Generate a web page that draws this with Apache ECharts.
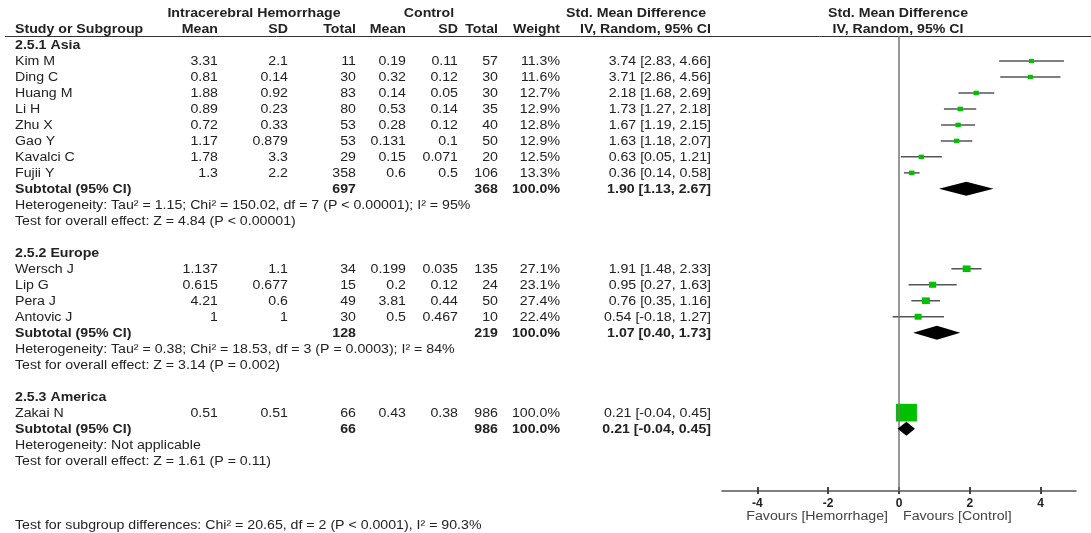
<!DOCTYPE html>
<html lang="en">
<head>
	<meta charset="UTF-8">
	<title>Forest plot - Std. Mean Difference</title>
	<script src="https://cdn.jsdelivr.net/npm/echarts@6/dist/echarts.min.js"></script>
	<style>
		html, body { margin: 0; padding: 0; background: #fff; }
		#forest { width: 1091px; height: 533px; }
	</style>
</head>
<body>
	<div id="forest"></div>
	<script>
		// subgroups
		var groupNames = ['2.5.1 Asia', '2.5.2 Europe', '2.5.3 America'];
		var groupSizes = [8, 4, 1];

		// studies
		var studyNames = ['Kim M', 'Ding C', 'Huang M', 'Li H', 'Zhu X', 'Gao Y', 'Kavalci C', 'Fujii Y',
			'Wersch J', 'Lip G', 'Pera J', 'Antovic J', 'Zakai N'];
		var hemMean = [3.31, 0.81, 1.88, 0.89, 0.72, 1.17, 1.78, 1.3, 1.137, 0.615, 4.21, 1, 0.51];
		var hemSD = [2.1, 0.14, 0.92, 0.23, 0.33, 0.879, 3.3, 2.2, 1.1, 0.677, 0.6, 1, 0.51];
		var hemTotal = [11, 30, 83, 80, 53, 53, 29, 358, 34, 15, 49, 30, 66];
		var ctrlMean = [0.19, 0.32, 0.14, 0.53, 0.28, 0.131, 0.15, 0.6, 0.199, 0.2, 3.81, 0.5, 0.43];
		var ctrlSD = [0.11, 0.12, 0.05, 0.14, 0.12, 0.1, 0.071, 0.5, 0.035, 0.12, 0.44, 0.467, 0.38];
		var ctrlTotal = [57, 30, 30, 35, 40, 50, 20, 106, 135, 24, 50, 10, 986];
		var weight = [11.3, 11.6, 12.7, 12.9, 12.8, 12.9, 12.5, 13.3, 27.1, 23.1, 27.4, 22.4, 100.0];
		var smd = [3.74, 3.71, 2.18, 1.73, 1.67, 1.63, 0.63, 0.36, 1.91, 0.95, 0.76, 0.54, 0.21];
		var ciLow = [2.83, 2.86, 1.68, 1.27, 1.19, 1.18, 0.05, 0.14, 1.48, 0.27, 0.35, -0.18, -0.04];
		var ciHigh = [4.66, 4.56, 2.69, 2.18, 2.15, 2.07, 1.21, 0.58, 2.33, 1.63, 1.16, 1.27, 0.45];

		// subtotals
		var subHemTotal = [697, 128, 66];
		var subCtrlTotal = [368, 219, 986];
		var subSmd = [1.90, 1.07, 0.21];
		var subLow = [1.13, 0.40, -0.04];
		var subHigh = [2.67, 1.73, 0.45];
		var hetText = [
			'Heterogeneity: Tau² = 1.15; Chi² = 150.02, df = 7 (P < 0.00001); I² = 95%',
			'Heterogeneity: Tau² = 0.38; Chi² = 18.53, df = 3 (P = 0.0003); I² = 84%',
			'Heterogeneity: Not applicable'
		];
		var effectText = [
			'Test for overall effect: Z = 4.84 (P < 0.00001)',
			'Test for overall effect: Z = 3.14 (P = 0.002)',
			'Test for overall effect: Z = 1.61 (P = 0.11)'
		];
		var subgroupDiffText = 'Test for subgroup differences: Chi² = 20.65, df = 2 (P < 0.0001), I² = 90.3%';

		var xTicks = [-4, -2, 0, 2, 4];

		// row layout (one row per text line)
		var groupRows = [], studyRows = [], subRows = [], hetRows = [], effectRows = [];
		var r = 0;
		for (var g = 0; g < groupNames.length; g++) {
			groupRows.push(r++);
			for (var j = 0; j < groupSizes[g]; j++) studyRows.push(r++);
			subRows.push(r++);
			hetRows.push(r++);
			effectRows.push(r++);
			r++;
		}
		var diffRow = r + 2;

		var ciData = [], pointData = [], diamondData = [];
		for (var i = 0; i < studyNames.length; i++) {
			ciData.push([ciLow[i], ciHigh[i], studyRows[i]]);
			pointData.push([smd[i], studyRows[i], weight[i]]);
		}
		for (var g = 0; g < groupNames.length; g++) {
			diamondData.push([subSmd[g], subLow[g], subHigh[g], subRows[g]]);
		}

		var chart = echarts.init(document.getElementById('forest'));
		chart.setOption({
			animation: false,
			grid: [
				{ left: 722, right: 15, top: 36, bottom: 42 },
				// thin strip just above the axis, only for the upper half of the ticks
				{ left: 722, right: 15, top: 486, bottom: 42 }
			],
			xAxis: [{
				type: 'value', min: -5, max: 5, position: 'bottom',
				axisLine: { onZero: false, lineStyle: { color: '#555', width: 1.5 } },
				axisTick: { customValues: xTicks, length: 3, lineStyle: { color: '#444', width: 2 } },
				axisLabel: { customValues: xTicks, margin: 7, color: '#222', fontSize: 12, fontWeight: 'bold', fontFamily: 'Liberation Sans, Arial, sans-serif' },
				splitLine: { show: false }
			}, {
				gridIndex: 1, type: 'value', min: -5, max: 5, position: 'bottom',
				axisLine: { show: false, onZero: false },
				axisTick: { customValues: xTicks, inside: true, length: 4, lineStyle: { color: '#444', width: 2 } },
				axisLabel: { show: false },
				splitLine: { show: false }
			}],
			yAxis: [
				{ type: 'value', inverse: true, min: -0.56, max: 27.9, show: false },
				{ gridIndex: 1, type: 'value', min: 0, max: 1, show: false }
			],
			series: [{
				type: 'custom', name: 'ci', clip: false, z: 3,
				encode: { x: [0, 1], y: 2 },
				data: ciData,
				renderItem: function (params, api) {
					var a = api.coord([api.value(0), api.value(2)]);
					var b = api.coord([api.value(1), api.value(2)]);
					return { type: 'line', shape: { x1: a[0], y1: a[1], x2: b[0], y2: b[1] }, style: { stroke: '#555', lineWidth: 1.5 } };
				},
				markLine: {
					silent: true, symbol: 'none', label: { show: false },
					lineStyle: { color: '#777', width: 1.5, type: 'solid' },
					data: [{ xAxis: 0 }]
				}
			}, {
				type: 'custom', name: 'point', clip: false, z: 4,
				encode: { x: 0, y: 1 },
				data: pointData,
				renderItem: function (params, api) {
					var c = api.coord([api.value(0), api.value(1)]);
					var w = 3 + 0.18 * api.value(2);
					var h = w * 0.84;
					return { type: 'rect', shape: { x: c[0] - w / 2, y: c[1] - h / 2, width: w, height: h }, style: { fill: '#00c000' } };
				}
			}, {
				type: 'custom', name: 'subtotal', clip: false, z: 5,
				encode: { x: [0, 1, 2], y: 3 },
				data: diamondData,
				renderItem: function (params, api) {
					var c = api.coord([api.value(0), api.value(3)]);
					var lo = api.coord([api.value(1), api.value(3)]);
					var hi = api.coord([api.value(2), api.value(3)]);
					return {
						type: 'polygon',
						shape: { points: [[lo[0], c[1]], [c[0], c[1] - 7], [hi[0], c[1]], [c[0], c[1] + 7]] },
						style: { fill: '#000' }
					};
				}
			}]
		});

		// table text
		var SX = 1.18;
		var FONT = '"Liberation Sans", Arial, sans-serif';
		function txt(x, y, s, align, bold, size, color) {
			align = align || 'left';
			return {
				type: 'text', x: x, y: y, scaleX: SX, silent: true,
				style: {
					text: String(s), x: 0, y: 0,
					font: (bold ? 'bold ' : '') + (size || 12) + 'px ' + FONT,
					fill: color || '#222', align: align, textAlign: align,
					verticalAlign: 'middle', textVerticalAlign: 'middle'
				}
			};
		}
		function rowY(row) {
			return chart.convertToPixel({ yAxisIndex: 0 }, row) + 1;
		}
		function ciStr(e, l, h) {
			return e.toFixed(2) + ' [' + l.toFixed(2) + ', ' + h.toFixed(2) + ']';
		}

		var col = { hemMean: 218, hemSD: 288, hemTotal: 356, ctrlMean: 406, ctrlSD: 458, ctrlTotal: 498, weight: 560, ci: 711 };
		var LX = 15;
		var els = [];

		// header
		els.push(txt(254, 14, 'Intracerebral Hemorrhage', 'center', true));
		els.push(txt(429, 14, 'Control', 'center', true));
		els.push(txt(636, 14, 'Std. Mean Difference', 'center', true));
		els.push(txt(898, 14, 'Std. Mean Difference', 'center', true));
		els.push(txt(LX, 30, 'Study or Subgroup', 'left', true));
		els.push(txt(col.hemMean, 30, 'Mean', 'right', true));
		els.push(txt(col.hemSD, 30, 'SD', 'right', true));
		els.push(txt(col.hemTotal, 30, 'Total', 'right', true));
		els.push(txt(col.ctrlMean, 30, 'Mean', 'right', true));
		els.push(txt(col.ctrlSD, 30, 'SD', 'right', true));
		els.push(txt(col.ctrlTotal, 30, 'Total', 'right', true));
		els.push(txt(col.weight, 30, 'Weight', 'right', true));
		els.push(txt(col.ci, 30, 'IV, Random, 95% CI', 'right', true));
		els.push(txt(898, 30, 'IV, Random, 95% CI', 'center', true));
		els.push({ type: 'line', silent: true, shape: { x1: 5, y1: 36.5, x2: 1091, y2: 36.5 }, style: { stroke: '#333', lineWidth: 1 } });

		for (var g = 0; g < groupNames.length; g++) {
			els.push(txt(LX, rowY(groupRows[g]), groupNames[g], 'left', true));
			var ys = rowY(subRows[g]);
			els.push(txt(LX, ys, 'Subtotal (95% CI)', 'left', true));
			els.push(txt(col.hemTotal, ys, subHemTotal[g], 'right', true));
			els.push(txt(col.ctrlTotal, ys, subCtrlTotal[g], 'right', true));
			els.push(txt(col.weight, ys, '100.0%', 'right', true));
			els.push(txt(col.ci, ys, ciStr(subSmd[g], subLow[g], subHigh[g]), 'right', true));
			els.push(txt(LX, rowY(hetRows[g]), hetText[g], 'left', false));
			els.push(txt(LX, rowY(effectRows[g]), effectText[g], 'left', false));
		}
		for (var i = 0; i < studyNames.length; i++) {
			var y = rowY(studyRows[i]);
			els.push(txt(LX, y, studyNames[i]));
			els.push(txt(col.hemMean, y, hemMean[i], 'right'));
			els.push(txt(col.hemSD, y, hemSD[i], 'right'));
			els.push(txt(col.hemTotal, y, hemTotal[i], 'right'));
			els.push(txt(col.ctrlMean, y, ctrlMean[i], 'right'));
			els.push(txt(col.ctrlSD, y, ctrlSD[i], 'right'));
			els.push(txt(col.ctrlTotal, y, ctrlTotal[i], 'right'));
			els.push(txt(col.weight, y, weight[i].toFixed(1) + '%', 'right'));
			els.push(txt(col.ci, y, ciStr(smd[i], ciLow[i], ciHigh[i]), 'right'));
		}
		els.push(txt(LX, rowY(diffRow), subgroupDiffText, 'left', false));

		// axis captions
		els.push(txt(888, 517, 'Favours [Hemorrhage]', 'right', false, 12, '#444'));
		els.push(txt(903, 517, 'Favours [Control]', 'left', false, 12, '#444'));

		chart.setOption({ graphic: { elements: els } });
	</script>
</body>
</html>
